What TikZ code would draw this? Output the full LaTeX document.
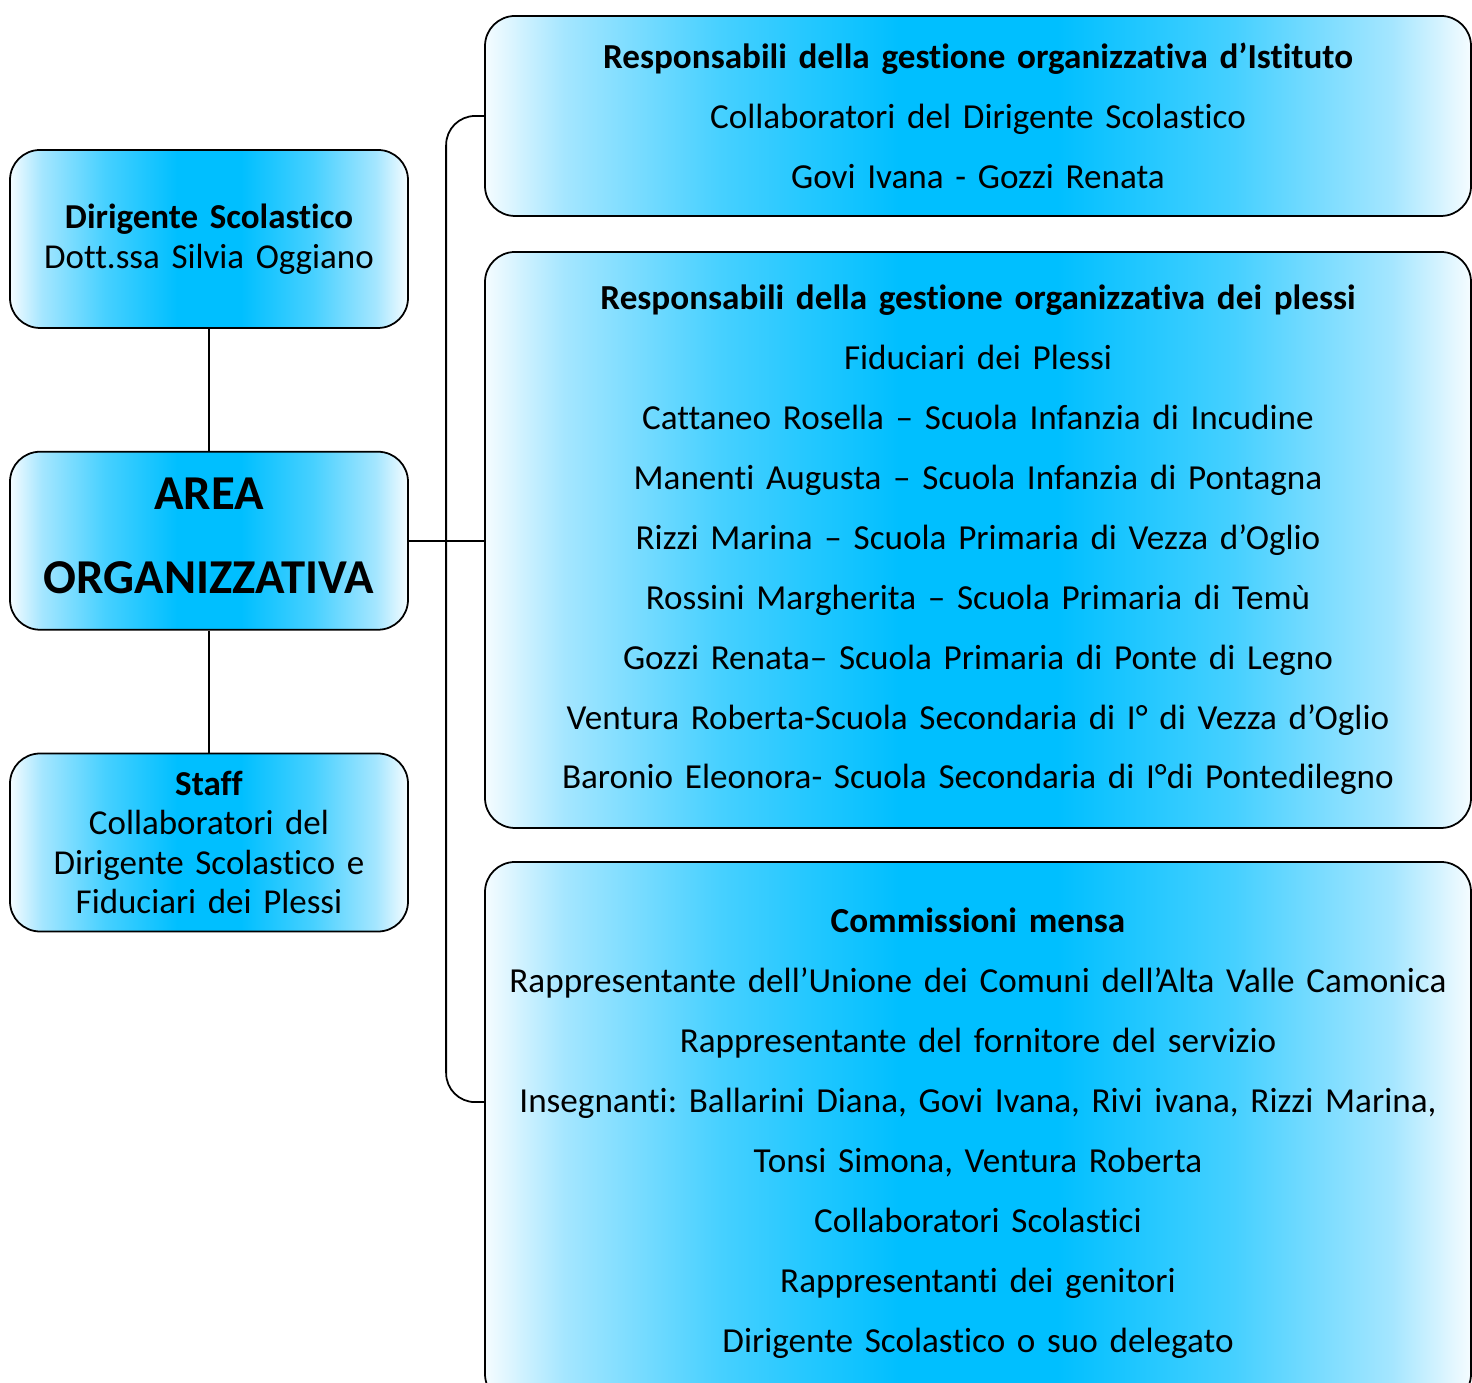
\documentclass[tikz,border=0pt]{standalone}
\definecolor{skyblue}{RGB}{0, 191, 255}
\definecolor{midblue}{RGB}{70, 208, 255}
\definecolor{lightblue}{RGB}{165, 230, 255}
\definecolor{paleblue}{RGB}{245, 252, 255}
\usepackage{fontspec}
\setmainfont[Ligatures={NoCommon,NoContextual,NoRequired}, Contextuals=NoAlternate]{Carlito}
\usepackage{tikz}
\usetikzlibrary{positioning, calc}
\frenchspacing

\pgfdeclarehorizontalshading{orgshade}{100bp}{
  color(0bp)=(paleblue); color(25bp)=(paleblue); color(29bp)=(lightblue);
  color(37bp)=(midblue); color(46bp)=(skyblue); color(54bp)=(skyblue);
  color(63bp)=(midblue); color(71bp)=(lightblue); color(75bp)=(paleblue);
  color(100bp)=(paleblue)}

\tikzset{
  orgbox/.style={draw=black, line width=1pt, rounded corners=0.6cm,
    shading=orgshade, align=center, inner sep=0pt},
  leftbox/.style={orgbox, minimum width=7.96cm, minimum height=3.56cm,
    text width=7.6cm, font=\fontsize{19.9}{22.5}\selectfont},
  rightbox/.style={orgbox, minimum width=19.72cm, text width=19.4cm,
    font=\fontsize{20}{34.1}\selectfont},
  link/.style={line width=1pt}
}

\begin{document}
\begin{tikzpicture}
  \useasboundingbox (0, 0) rectangle (29.44, 27.66);

  % Left column
  \node[leftbox] (dir) at (4.18, 22.88) {\textbf{Dirigente Scolastico}\\Dott.ssa Silvia Oggiano};
  \node[leftbox, below=2.44cm of dir, font=\fontsize{27.7}{47.8}\selectfont\bfseries] (area) {AREA\\ORGANIZZATIVA\rule[-0.2cm]{0pt}{0pt}};
  \node[leftbox, below=2.44cm of area] (staff) {\textbf{Staff}\\Collaboratori del\\Dirigente Scolastico e\\Fiduciari dei Plessi};

  % Right column
  \node[rightbox, minimum height=4.0cm] (istituto) at (19.56, 25.34) {
    \textbf{Responsabili della gestione organizzativa d’Istituto}\\
    Collaboratori del Dirigente Scolastico\\
    Govi Ivana - Gozzi Renata
  };
  \node[rightbox, minimum height=11.52cm] (plessi) at (19.56, 16.86) {
    \textbf{Responsabili della gestione organizzativa dei plessi}\\
    Fiduciari dei Plessi\\
    Cattaneo Rosella – Scuola Infanzia di Incudine\\
    Manenti Augusta – Scuola Infanzia di Pontagna\\
    Rizzi Marina – Scuola Primaria di Vezza d’Oglio\\
    Rossini Margherita – Scuola Primaria di Temù\\
    Gozzi Renata– Scuola Primaria di Ponte di Legno\\
    Ventura Roberta-Scuola Secondaria di I° di Vezza d’Oglio\\
    Baronio Eleonora- Scuola Secondaria di I°di Pontedilegno
  };
  \node[rightbox, minimum height=10.84cm] (mensa) at (19.56, 5.0) {
    \textbf{Commissioni mensa}\\
    Rappresentante dell’Unione dei Comuni dell’Alta Valle Camonica\\
    Rappresentante del fornitore del servizio\\
    Insegnanti: Ballarini Diana, Govi Ivana, Rivi ivana, Rizzi Marina,\\
    Tonsi Simona, Ventura Roberta\\
    Collaboratori Scolastici\\
    Rappresentanti dei genitori\\
    Dirigente Scolastico o suo delegato
  };

  % Connectors
  \draw[link] (dir) -- (area);
  \draw[link] (area) -- (staff);
  \draw[link] (area.east) -- (area.east -| plessi.west);
  \coordinate (mensain) at ([yshift=-4.82cm]mensa.north west);
  \draw[link, rounded corners=0.58cm] (istituto.west) -| ([xshift=-0.76cm]mensain) -- (mensain);
\end{tikzpicture}
\end{document}
